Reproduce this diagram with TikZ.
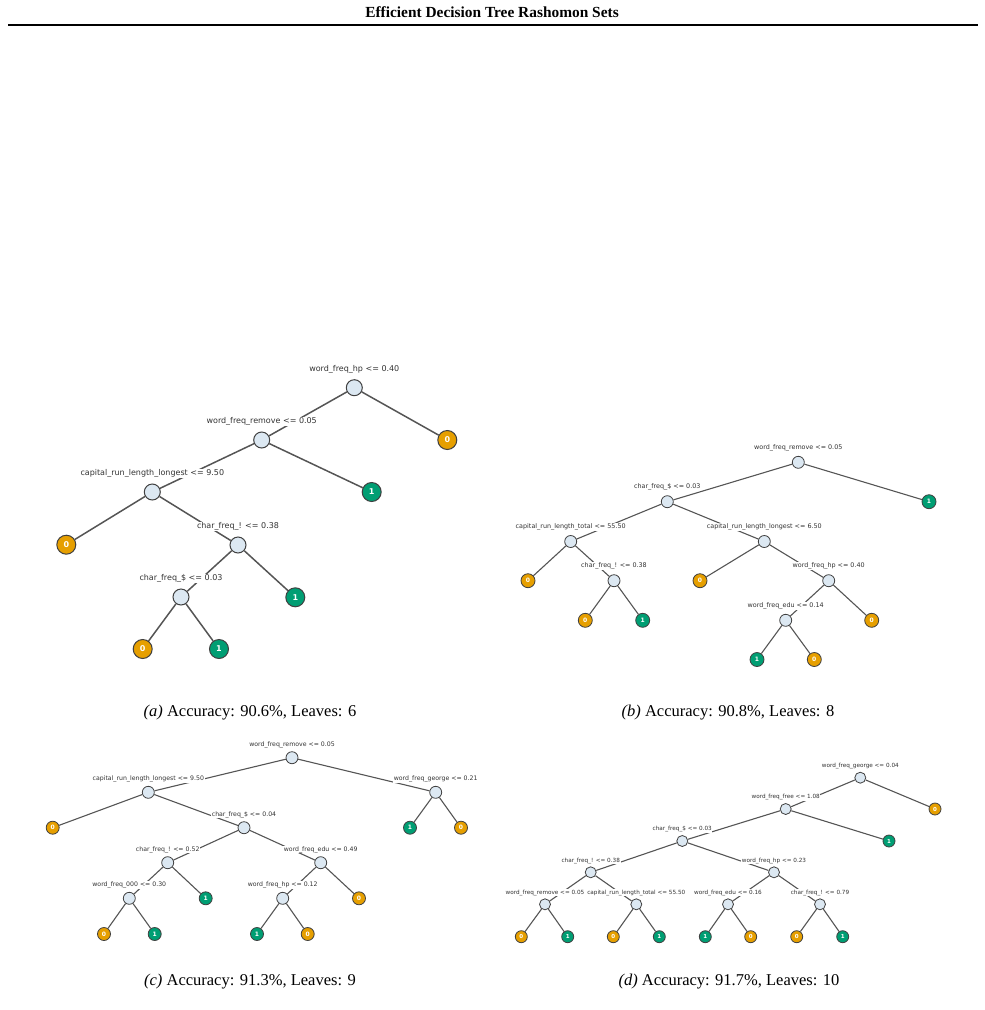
\documentclass[tikz,border=0pt]{standalone}
\usepackage{fontspec}
\setmainfont{Liberation Serif}
\newfontfamily\treefont{DejaVu Sans}
\usepackage{tikz}
\usetikzlibrary{positioning,backgrounds}
\definecolor{splitfill}{HTML}{DCE8F2}
\definecolor{ringgray}{HTML}{404040}
\definecolor{edgegray}{HTML}{555555}
\definecolor{labelgray}{HTML}{333333}
\definecolor{leafzero}{HTML}{E69F00}
\definecolor{leafone}{HTML}{009E73}

\tikzset{
  split/.style={circle,fill=splitfill,draw=ringgray,inner sep=0pt},
  leaf/.style={circle,draw=ringgray,inner sep=0pt,text=white},
  zero/.style={leaf,fill=leafzero},
  one/.style={leaf,fill=leafone},
  test/.style={fill=white,inner sep=0.6pt,text=labelgray},
  branch/.style={draw=edgegray},
  treesize/.style n args={6}{%
    split/.append style={minimum size=#1pt,line width=#6pt},
    leaf/.append style={minimum size=#2pt,line width=#6pt,
      font=\treefont\bfseries\fontsize{#4}{#4}\selectfont},
    test/.append style={font=\treefont\fontsize{#3}{#3}\selectfont},
    branch/.append style={line width=#5pt}},
  caption/.style={font=\fontsize{16.5}{18}\selectfont}
}

\begin{document}
\begin{tikzpicture}[x=1pt,y=-1pt]
  \useasboundingbox (0,0) rectangle (985,1010);

  \node[font=\fontsize{15.4}{17}\selectfont\bfseries] (title) at (492,12) {Efficient Decision Tree Rashomon Sets};
  \coordinate (ruleL) at (8,25);
  \coordinate (ruleR) at (978,25);
  \draw[line width=1.8pt] (ruleL) -- (ruleR);

  % (a)
  \begin{scope}[treesize={16}{19}{8}{8}{1.5}{1}, node distance=5.4pt]
    \node[split] (a1) at (354.3,387.7) {};
    \node[zero]  (aL1) at (447.3,440) {0};
    \node[split] (a2) at (261.7,440) {};
    \node[one]   (aL2) at (371.7,492) {1};
    \node[split] (a3) at (152.3,492) {};
    \node[zero]  (aL3) at (66.3,544.7) {0};
    \node[split] (a4) at (238,545) {};
    \node[one]   (aL4) at (295.3,597.3) {1};
    \node[split] (a5) at (181,597) {};
    \node[zero]  (aL5) at (142.7,649) {0};
    \node[one]   (aL6) at (219,649) {1};
    \node[test, above=of a1] (a1t) {word\_freq\_hp <= 0.40};
    \node[test, above=of a2] (a2t) {word\_freq\_remove <= 0.05};
    \node[test, above=of a3] (a3t) {capital\_run\_length\_longest <= 9.50};
    \node[test, above=of a4] (a4t) {char\_freq\_! <= 0.38};
    \node[test, above=of a5] (a5t) {char\_freq\_\$ <= 0.03};
    \begin{scope}[on background layer]
      \foreach \p/\c in {a1/a2,a1/aL1,a2/a3,a2/aL2,a3/aL3,a3/a4,a4/a5,a4/aL4,a5/aL5,a5/aL6}
        \draw[branch] (\p) -- (\c);
    \end{scope}
  \end{scope}
  \node[caption] (capA) at (250,713) {\textit{(a)} Accuracy: 90.6\%, Leaves: 6};

  % (b)
  \begin{scope}[treesize={12}{14}{6.4}{6}{1.1}{0.8}, node distance=4.2pt]
    \node[split] (b1) at (798.3,462.3) {};
    \node[one]   (bL1) at (929,501.7) {1};
    \node[split] (b2) at (667.3,501.7) {};
    \node[split] (b3) at (570.7,541.5) {};
    \node[split] (b4) at (764.3,541.5) {};
    \node[zero]  (bL2) at (528,580.7) {0};
    \node[split] (b5) at (614,580.7) {};
    \node[zero]  (bL3) at (700,580.7) {0};
    \node[split] (b6) at (828.7,580.7) {};
    \node[zero]  (bL4) at (585.3,620.3) {0};
    \node[one]   (bL5) at (642.7,620.3) {1};
    \node[split] (b7) at (785.7,620.3) {};
    \node[zero]  (bL6) at (871.7,620.3) {0};
    \node[one]   (bL7) at (757,659.5) {1};
    \node[zero]  (bL8) at (814.3,659.5) {0};
    \node[test, above=of b1] (b1t) {word\_freq\_remove <= 0.05};
    \node[test, above=of b2] (b2t) {char\_freq\_\$ <= 0.03};
    \node[test, above=of b3] (b3t) {capital\_run\_length\_total <= 55.50};
    \node[test, above=of b4] (b4t) {capital\_run\_length\_longest <= 6.50};
    \node[test, above=of b5] (b5t) {char\_freq\_! <= 0.38};
    \node[test, above=of b6] (b6t) {word\_freq\_hp <= 0.40};
    \node[test, above=of b7] (b7t) {word\_freq\_edu <= 0.14};
    \begin{scope}[on background layer]
      \foreach \p/\c in {b1/b2,b1/bL1,b2/b3,b2/b4,b3/bL2,b3/b5,b4/bL3,b4/b6,b5/bL4,b5/bL5,b6/b7,b6/bL6,b7/bL7,b7/bL8}
        \draw[branch] (\p) -- (\c);
    \end{scope}
  \end{scope}
  \node[caption] (capB) at (728,713) {\textit{(b)} Accuracy: 90.8\%, Leaves: 8};

  % (c)
  \begin{scope}[treesize={12}{13}{6.2}{6}{1.1}{0.8}, node distance=3pt]
    \node[split] (c1) at (292,757.7) {};
    \node[split] (c2) at (148.3,792.3) {};
    \node[split] (c3) at (435.7,792.3) {};
    \node[zero]  (cL1) at (52.7,827.7) {0};
    \node[split] (c4) at (244,827.7) {};
    \node[one]   (cL2) at (410,827.7) {1};
    \node[zero]  (cL3) at (461,827.7) {0};
    \node[split] (c5) at (167.7,862.7) {};
    \node[split] (c6) at (320.7,862.7) {};
    \node[split] (c7) at (129.3,898.3) {};
    \node[one]   (cL4) at (205.7,898.3) {1};
    \node[split] (c8) at (282.7,898.3) {};
    \node[zero]  (cL5) at (359,898.3) {0};
    \node[zero]  (cL6) at (104,934) {0};
    \node[one]   (cL7) at (154.7,934) {1};
    \node[one]   (cL8) at (257,934) {1};
    \node[zero]  (cL9) at (307.7,934) {0};
    \node[test, above=of c1] (c1t) {word\_freq\_remove <= 0.05};
    \node[test, above=of c2] (c2t) {capital\_run\_length\_longest <= 9.50};
    \node[test, above=of c3] (c3t) {word\_freq\_george <= 0.21};
    \node[test, above=of c4] (c4t) {char\_freq\_\$ <= 0.04};
    \node[test, above=of c5] (c5t) {char\_freq\_! <= 0.52};
    \node[test, above=of c6] (c6t) {word\_freq\_edu <= 0.49};
    \node[test, above=of c7] (c7t) {word\_freq\_000 <= 0.30};
    \node[test, above=of c8] (c8t) {word\_freq\_hp <= 0.12};
    \begin{scope}[on background layer]
      \foreach \p/\c in {c1/c2,c1/c3,c2/cL1,c2/c4,c3/cL2,c3/cL3,c4/c5,c4/c6,c5/c7,c5/cL4,c6/c8,c6/cL5,c7/cL6,c7/cL7,c8/cL8,c8/cL9}
        \draw[branch] (\p) -- (\c);
    \end{scope}
  \end{scope}
  \node[caption] (capC) at (250,982) {\textit{(c)} Accuracy: 91.3\%, Leaves: 9};

  % (d)
  \begin{scope}[treesize={11}{12}{5.7}{5.5}{1.1}{0.8}, node distance=2pt]
    \node[split] (d1) at (860.3,777.7) {};
    \node[zero]  (dL1) at (935,809) {0};
    \node[split] (d2) at (785.7,809) {};
    \node[one]   (dL2) at (889,841) {1};
    \node[split] (d3) at (682.3,841) {};
    \node[split] (d4) at (590.7,872.3) {};
    \node[split] (d5) at (774,872.3) {};
    \node[split] (d6) at (545,904.3) {};
    \node[split] (d7) at (636.3,904.3) {};
    \node[split] (d8) at (728,904.3) {};
    \node[split] (d9) at (820,904.3) {};
    \node[zero]  (dL3) at (521.3,936.7) {0};
    \node[one]   (dL4) at (567.7,936.7) {1};
    \node[zero]  (dL5) at (613.3,936.7) {0};
    \node[one]   (dL6) at (659.3,936.7) {1};
    \node[one]   (dL7) at (705.3,936.7) {1};
    \node[zero]  (dL8) at (750.7,936.7) {0};
    \node[zero]  (dL9) at (796.7,936.7) {0};
    \node[one]   (dL10) at (842.7,936.7) {1};
    \node[test, above=of d1] (d1t) {word\_freq\_george <= 0.04};
    \node[test, above=of d2] (d2t) {word\_freq\_free <= 1.08};
    \node[test, above=of d3] (d3t) {char\_freq\_\$ <= 0.03};
    \node[test, above=of d4] (d4t) {char\_freq\_! <= 0.38};
    \node[test, above=of d5] (d5t) {word\_freq\_hp <= 0.23};
    \node[test, above=of d6] (d6t) {word\_freq\_remove <= 0.05};
    \node[test, above=of d7] (d7t) {capital\_run\_length\_total <= 55.50};
    \node[test, above=of d8] (d8t) {word\_freq\_edu <= 0.16};
    \node[test, above=of d9] (d9t) {char\_freq\_! <= 0.79};
    \begin{scope}[on background layer]
      \foreach \p/\c in {d1/d2,d1/dL1,d2/d3,d2/dL2,d3/d4,d3/d5,d4/d6,d4/d7,d5/d8,d5/d9,d6/dL3,d6/dL4,d7/dL5,d7/dL6,d8/dL7,d8/dL8,d9/dL9,d9/dL10}
        \draw[branch] (\p) -- (\c);
    \end{scope}
  \end{scope}
  \node[caption] (capD) at (729,982) {\textit{(d)} Accuracy: 91.7\%, Leaves: 10};
\end{tikzpicture}
\end{document}
